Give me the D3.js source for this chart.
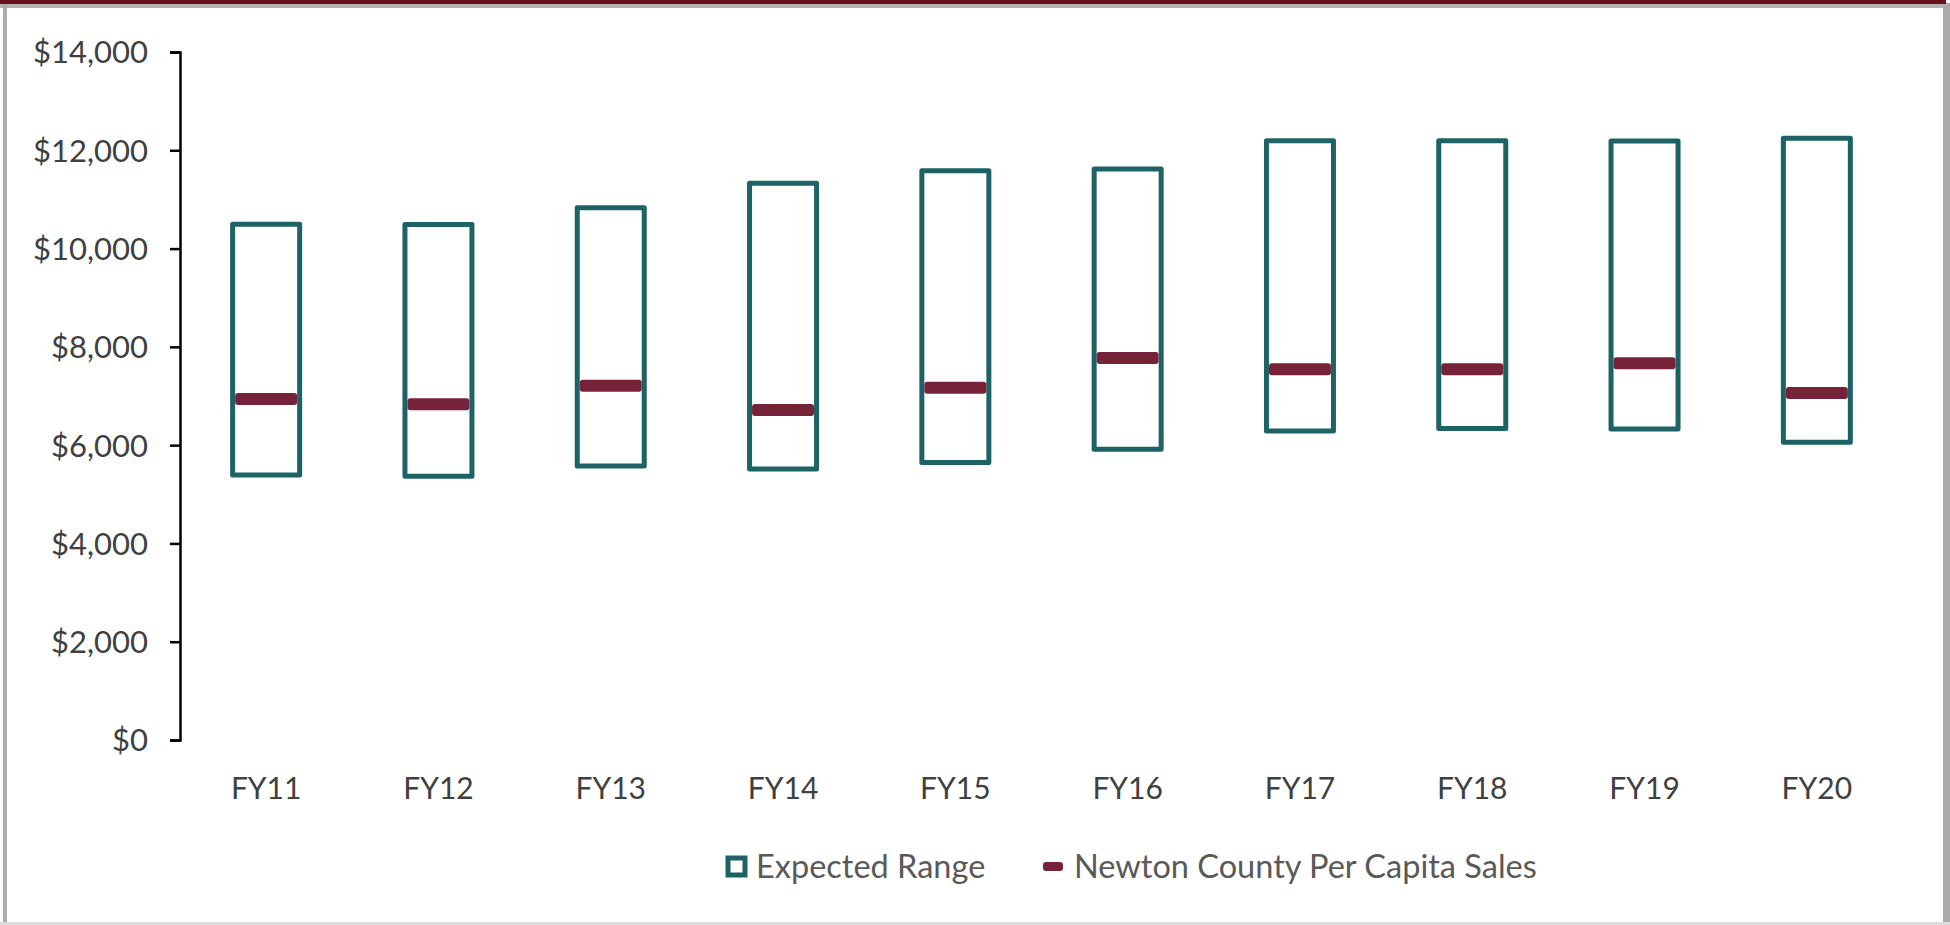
<!DOCTYPE html>
<html>
<head>
<meta charset="utf-8">
<script src="https://cdn.jsdelivr.net/npm/d3@7"></script>
<style>
  html, body { margin: 0; padding: 0; background: #ffffff; }
  svg { display: block; }
  text { font-family: Lato, "Open Sans", sans-serif; }
</style>
</head>
<body>
<script>
// ---- data ----
const categories = ["FY11","FY12","FY13","FY14","FY15","FY16","FY17","FY18","FY19","FY20"];
const rangeLow  = [5390, 5365, 5575, 5515, 5645, 5915, 6290, 6340, 6330, 6060];
const rangeHigh = [10495, 10490, 10830, 11330, 11585, 11620, 12195, 12195, 12190, 12245];
const perCapita = [6940, 6830, 7210, 6715, 7170, 7775, 7545, 7545, 7665, 7060];
const yTicks = [0, 2000, 4000, 6000, 8000, 10000, 12000, 14000];
const seriesNames = ["Expected Range", "Newton County Per Capita Sales"];

const W = 1950, H = 925;
const teal = "#1d6265", maroon = "#76233a";

const svg = d3.select("body").append("svg").attr("width", W).attr("height", H);

// frame
svg.append("rect").attr("x",0).attr("y",0).attr("width",W).attr("height",H).attr("fill","#ffffff");
svg.append("rect").attr("x",0).attr("y",3).attr("width",W).attr("height",5).attr("fill","#b3b3b3");
svg.append("rect").attr("x",3).attr("y",3).attr("width",4).attr("height",H-3).attr("fill","#aaaaaa");
svg.append("rect").attr("x",W-7).attr("y",3).attr("width",7).attr("height",H-3).attr("fill","#aaaaaa");
svg.append("rect").attr("x",0).attr("y",H-3).attr("width",W).attr("height",3).attr("fill","#dddddd");
svg.append("rect").attr("x",0).attr("y",0).attr("width",W-4).attr("height",4).attr("fill","#6b0f1c");

// scales
const x = d3.scaleBand().domain(categories).range([180, 1903]).padding(0);
const y = d3.scaleLinear().domain([0, 14000]).range([740, 52]);

// y axis
const yAxis = d3.axisLeft(y).tickValues(yTicks)
  .tickFormat(d => "$" + d3.format(",")(d)).tickSize(10).tickPadding(22);
const gy = svg.append("g").attr("transform", "translate(180,0)").call(yAxis);
gy.select(".domain").attr("stroke", "#000").attr("stroke-width", 2.5);
gy.selectAll(".tick line").attr("stroke", "#000").attr("stroke-width", 2.5);
gy.selectAll(".tick text").attr("fill", "#404040").style("font-size", "31px")
  .style("font-family", "Lato, sans-serif").attr("dy", "0.35em");

// x labels
const xAxis = d3.axisBottom(x).tickSize(0).tickPadding(0);
const gx = svg.append("g").attr("transform", "translate(0,788)").call(xAxis);
gx.select(".domain").remove();
gx.selectAll(".tick text").attr("fill", "#404040").style("font-size", "30px")
  .style("font-family", "Lato, sans-serif").attr("dy", "0.35em").attr("y", 0);

// boxes
const boxW = 67;
svg.append("g").selectAll("rect").data(categories).join("rect")
  .attr("x", (d) => x(d) + x.bandwidth()/2 - boxW/2)
  .attr("y", (d, i) => y(rangeHigh[i]))
  .attr("width", boxW)
  .attr("height", (d, i) => y(rangeLow[i]) - y(rangeHigh[i]))
  .attr("fill", "none").attr("stroke", teal).attr("stroke-width", 5)
  .attr("stroke-linejoin", "round");

// per-capita markers
const barW = 62, barH = 12;
svg.append("g").selectAll("rect").data(categories).join("rect")
  .attr("x", (d) => x(d) + x.bandwidth()/2 - barW/2)
  .attr("y", (d, i) => y(perCapita[i]) - barH/2)
  .attr("width", barW).attr("height", barH).attr("rx", 3)
  .attr("fill", maroon);

// legend
const lg = svg.append("g");
lg.append("rect").attr("x", 728).attr("y", 858).attr("width", 17).attr("height", 17)
  .attr("fill", "#fff").attr("stroke", teal).attr("stroke-width", 5);
lg.append("text").attr("x", 756).attr("y", 867).attr("dy", "0.35em")
  .attr("fill", "#595959").style("font-size", "32.5px").text(seriesNames[0]);
lg.append("rect").attr("x", 1043).attr("y", 862).attr("width", 20).attr("height", 9).attr("rx", 3)
  .attr("fill", maroon);
lg.append("text").attr("x", 1074).attr("y", 867).attr("dy", "0.35em")
  .attr("fill", "#595959").style("font-size", "32.5px").text(seriesNames[1]);
</script>
</body>
</html>
